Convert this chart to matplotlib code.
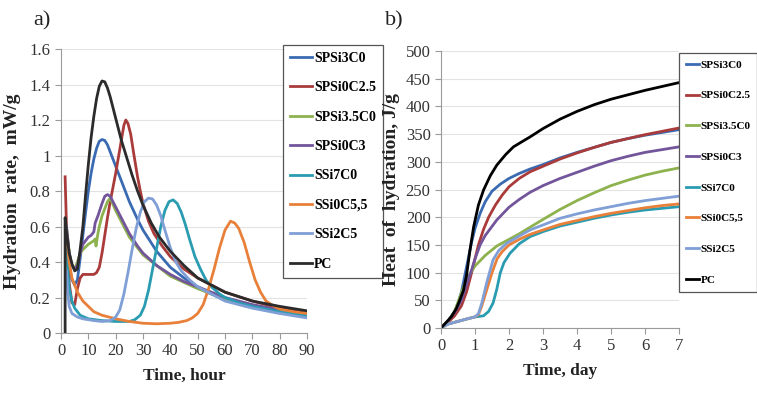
import matplotlib
matplotlib.use('Agg')
import matplotlib.pyplot as plt

plt.rcParams['font.family'] = ['Liberation Serif', 'DejaVu Serif']

names = ['SPSi3C0', 'SPSi0C2.5', 'SPSi3.5C0', 'SPSi0C3', 'SSi7C0', 'SSi0C5,5', 'SSi2C5', 'PC']
colors = ['#3a6bb2', '#a93b3b', '#8db24e', '#72559a', '#2a9cb1', '#e8803a', '#7f9fd6', '#2b2b2b']

# a) hydration rate (time in hours, mW/g)
rate_t = [
    [2, 3, 4, 5, 6, 7, 8, 9, 10, 11, 12, 13, 14, 15, 16, 17, 18, 20, 22, 25, 28, 30, 35, 40, 45, 50, 55, 60, 70, 80, 90],
    [1.5, 2, 2.5, 3, 4, 5, 6, 7, 8, 10, 12, 13, 14, 15, 16, 17, 18, 19, 20, 21, 22, 23, 23.7, 24.5, 25.5, 26.5, 28, 29,
     30, 32, 34, 37, 40, 45, 50, 55, 60, 70, 80, 90],
    [2, 3, 4, 5, 6, 7, 8, 10, 12, 12.5, 12.8, 13.5, 14, 15, 16, 17, 18, 20, 25, 30, 40, 50, 60, 70, 80, 90],
    [2, 3, 4, 5, 6, 7, 8, 10, 11, 12, 12.5, 13.5, 15, 16, 17, 18, 20, 22, 25, 28, 30, 35, 40, 45, 50, 60, 70, 80, 90],
    [2, 2.5, 3, 4, 5, 7, 10, 15, 20, 25, 27, 29, 30.5, 32, 33.5, 35, 36.5, 38, 39.5, 41, 42.5, 44, 45.5, 47, 49, 51,
     53, 55, 58, 60, 65, 70, 80, 90],
    [2, 3, 4, 6, 8, 10, 12, 15, 20, 25, 30, 35, 40, 43, 46, 48, 50, 52, 54, 56, 58, 60, 62, 63.5, 65, 67, 69, 71, 73,
     75, 78, 80, 85, 90],
    [2, 2.5, 3, 4, 6, 8, 12, 15, 18, 20, 21.5, 23, 24.5, 26, 27.5, 29, 30.5, 32, 33.5, 35, 36.5, 38, 40, 42, 44, 47,
     50, 55, 60, 70, 80, 90],
    [1.5, 1.5, 2, 3, 4, 5, 6, 7, 8, 9, 10, 11, 12, 13, 14, 15, 16, 17, 18, 20, 22, 24, 26, 28, 30, 33, 36, 40, 45, 50,
     55, 60, 70, 80, 90],
]
rate_v = [
    [0.5, 0.38, 0.3, 0.27, 0.3, 0.42, 0.55, 0.68, 0.8, 0.9, 0.98, 1.04, 1.08, 1.09, 1.085, 1.06, 1.02, 0.94, 0.86,
     0.74, 0.64, 0.58, 0.46, 0.37, 0.31, 0.26, 0.22, 0.19, 0.15, 0.12, 0.1],
    [0.88, 0.6, 0.4, 0.28, 0.17, 0.16, 0.25, 0.31, 0.33, 0.33, 0.33, 0.34, 0.37, 0.45, 0.55, 0.65, 0.74, 0.82, 0.9,
     0.99, 1.08, 1.17, 1.2, 1.18, 1.12, 1.02, 0.88, 0.8, 0.73, 0.63, 0.56, 0.49, 0.43, 0.36, 0.31, 0.27, 0.23, 0.18,
     0.14, 0.11],
    [0.6, 0.45, 0.38, 0.36, 0.4, 0.45, 0.47, 0.5, 0.52, 0.53, 0.49, 0.56, 0.6, 0.66, 0.7, 0.74, 0.76, 0.69, 0.54,
     0.44, 0.32, 0.25, 0.19, 0.15, 0.12, 0.1],
    [0.6, 0.45, 0.38, 0.36, 0.38, 0.45, 0.5, 0.54, 0.55, 0.57, 0.62, 0.66, 0.73, 0.77, 0.78, 0.77, 0.71, 0.65, 0.56,
     0.49, 0.45, 0.38, 0.33, 0.29, 0.26, 0.2, 0.16, 0.13, 0.1],
    [0.55, 0.35, 0.25, 0.18, 0.14, 0.1, 0.08, 0.07, 0.065, 0.065, 0.075, 0.1, 0.15, 0.24, 0.36, 0.48, 0.6, 0.69, 0.74,
     0.75, 0.73, 0.68, 0.61, 0.53, 0.43, 0.36, 0.3, 0.26, 0.22, 0.2, 0.17, 0.15, 0.12, 0.1],
    [0.55, 0.4, 0.31, 0.23, 0.18, 0.15, 0.12, 0.1, 0.08, 0.065, 0.055, 0.052, 0.055, 0.06, 0.07, 0.085, 0.11, 0.16,
     0.25, 0.36, 0.48, 0.58, 0.63, 0.62, 0.59, 0.51, 0.4, 0.3, 0.23, 0.18, 0.15, 0.135, 0.12, 0.11],
    [0.35, 0.22, 0.15, 0.11, 0.09, 0.08, 0.07, 0.065, 0.07, 0.09, 0.13, 0.22, 0.34, 0.47, 0.59, 0.68, 0.74, 0.76,
     0.755, 0.72, 0.66, 0.58, 0.48, 0.4, 0.35, 0.3, 0.26, 0.22, 0.18, 0.14, 0.11, 0.085],
    [0.0, 0.65, 0.57, 0.45, 0.39, 0.35, 0.36, 0.47, 0.6, 0.78, 0.95, 1.1, 1.22, 1.32, 1.39, 1.42, 1.415, 1.38, 1.33,
     1.21, 1.09, 0.99, 0.89, 0.8, 0.72, 0.62, 0.54, 0.46, 0.38, 0.31, 0.27, 0.23, 0.18, 0.15, 0.125],
]

# b) heat of hydration (time in days, J/g)
heat_t = [
    [0, 0.2, 0.4, 0.5, 0.6, 0.7, 0.8, 0.9, 1.0, 1.15, 1.3, 1.5, 1.75, 2, 2.3, 2.62, 3, 3.5, 4, 4.5, 5, 5.5, 6, 6.5, 7],
    [0, 0.2, 0.4, 0.6, 0.75, 0.9, 1.0, 1.1, 1.25, 1.4, 1.6, 1.8, 2, 2.3, 2.62, 3, 3.5, 4, 4.5, 5, 5.5, 6, 6.5, 7],
    [0, 0.2, 0.4, 0.55, 0.7, 0.85, 1.0, 1.3, 1.64, 2, 2.3, 2.62, 3, 3.5, 4, 4.5, 5, 5.5, 6, 6.5, 7],
    [0, 0.2, 0.4, 0.6, 0.75, 0.9, 1.0, 1.15, 1.3, 1.64, 2, 2.3, 2.62, 3, 3.5, 4, 4.5, 5, 5.5, 6, 6.5, 7],
    [0, 0.2, 0.5, 0.8, 1.0, 1.25, 1.4, 1.53, 1.64, 1.74, 1.85, 2.03, 2.3, 2.62, 3, 3.5, 4, 4.5, 5, 5.5, 6, 6.5, 7],
    [0, 0.2, 0.5, 0.8, 1.0, 1.1, 1.2, 1.35, 1.5, 1.65, 1.8, 2, 2.3, 2.62, 3, 3.5, 4, 4.5, 5, 5.5, 6, 6.5, 7],
    [0, 0.2, 0.5, 0.8, 1.0, 1.1, 1.2, 1.34, 1.53, 1.7, 1.93, 2.3, 2.62, 3, 3.5, 4, 4.5, 5, 5.5, 6, 6.5, 7],
    [0, 0.15, 0.3, 0.45, 0.55, 0.66, 0.75, 0.85, 0.96, 1.1, 1.25, 1.45, 1.64, 1.9, 2.13, 2.4, 2.62, 3, 3.5, 4, 4.5,
     5, 5.5, 6, 6.5, 7],
]
heat_v = [
    [0, 12, 30, 45, 65, 95, 125, 155, 180, 207, 228, 247, 260, 270, 279, 287, 295, 307, 317, 326, 335, 342, 348, 353,
     358],
    [0, 10, 22, 40, 65, 100, 125, 150, 178, 200, 222, 240, 255, 270, 282, 292, 305, 316, 326, 335, 342, 349, 355, 361],
    [0, 12, 30, 55, 80, 98, 112, 131, 148, 160, 170, 182, 196, 214, 230, 244, 257, 267, 276, 283, 289],
    [0, 12, 28, 50, 78, 105, 125, 150, 167, 195, 218, 232, 245, 257, 270, 281, 292, 302, 310, 317, 322, 327],
    [0, 7, 12, 17, 20, 22, 30, 45, 70, 99, 118, 135, 152, 165, 174, 184, 191, 198, 204, 209, 213, 216, 219],
    [0, 7, 12, 17, 20, 24, 40, 70, 100, 125, 138, 150, 160, 169, 177, 187, 194, 201, 207, 212, 217, 221, 224],
    [0, 7, 12, 17, 20, 26, 45, 81, 123, 140, 153, 166, 177, 186, 198, 206, 213, 219, 225, 230, 234, 238],
    [0, 10, 20, 35, 50, 68, 95, 140, 183, 222, 249, 275, 294, 313, 327, 337, 345, 360, 377, 391, 403, 413, 421, 429,
     436, 443],
]

fig = plt.figure(figsize=(7.57, 3.94), dpi=100)
ax1 = fig.add_axes([0.0806, 0.1548, 0.325, 0.7208])
ax2 = fig.add_axes([0.5826, 0.1675, 0.3144, 0.703])


def style(ax):
    ax.grid(axis='y', color='#e3e3e3', lw=0.8)
    ax.set_axisbelow(True)
    for s in ['top', 'right']:
        ax.spines[s].set_visible(False)
    for s in ['left', 'bottom']:
        ax.spines[s].set_color('#9a9a9a')
    ax.tick_params(colors='#9a9a9a', labelcolor='#333333', labelsize=12, length=4)


for i, n in enumerate(names):
    ax1.plot(rate_t[i], rate_v[i], color=colors[i], lw=2.0, label=n)
ax1.set_xlim(0, 90)
ax1.set_ylim(0, 1.6)
ax1.set_xticks(range(0, 91, 10))
ax1.set_yticks([0, 0.2, 0.4, 0.6, 0.8, 1.0, 1.2, 1.4, 1.6])
ax1.set_yticklabels(['0', '0.2', '0.4', '0.6', '0.8', '1', '1.2', '1.4', '1.6'])
style(ax1)
ax1.set_xlabel('Time, hour', fontsize=12.5, fontweight='bold', color='#222222', labelpad=6)
ax1.set_ylabel('Hydration  rate,  mW/g', fontsize=14, fontweight='bold', color='#222222', labelpad=6)

colors_b = colors[:-1] + ['#000000']
for i, n in enumerate(names):
    ax2.plot(heat_t[i], heat_v[i], color=colors_b[i], lw=2.0, label=n)
ax2.set_xlim(0, 7)
ax2.set_ylim(0, 500)
ax2.set_xticks(range(0, 8))
ax2.set_yticks(range(0, 501, 50))
style(ax2)
ax2.set_xlabel('Time, day', fontsize=12.5, fontweight='bold', color='#222222', labelpad=6)
ax2.set_ylabel('Heat  of  hydration, J/g', fontsize=14, fontweight='bold', color='#222222', labelpad=4)

for ax, anchor, fs, hl, ls in [(ax1, (0.3738, 0.8858), 10, 1.6, 1.18),
                               (ax2, (0.8975, 0.8655), 8.1, 1.1, 1.85)]:
    leg = ax.legend(loc='upper left', bbox_to_anchor=anchor, bbox_transform=fig.transFigure,
                    borderaxespad=0, fancybox=False, framealpha=1, edgecolor='#555555',
                    handlelength=hl, handletextpad=0.15, labelspacing=ls,
                    prop={'size': fs, 'weight': 'bold'}, borderpad=0.5 * 10 / fs)
    leg.get_frame().set_linewidth(0.9)

fig.text(0.044, 0.935, 'a)', fontsize=16, color='#222222')
fig.text(0.508, 0.935, 'b)', fontsize=16, color='#222222')

fig.savefig('out.png', dpi=100)
